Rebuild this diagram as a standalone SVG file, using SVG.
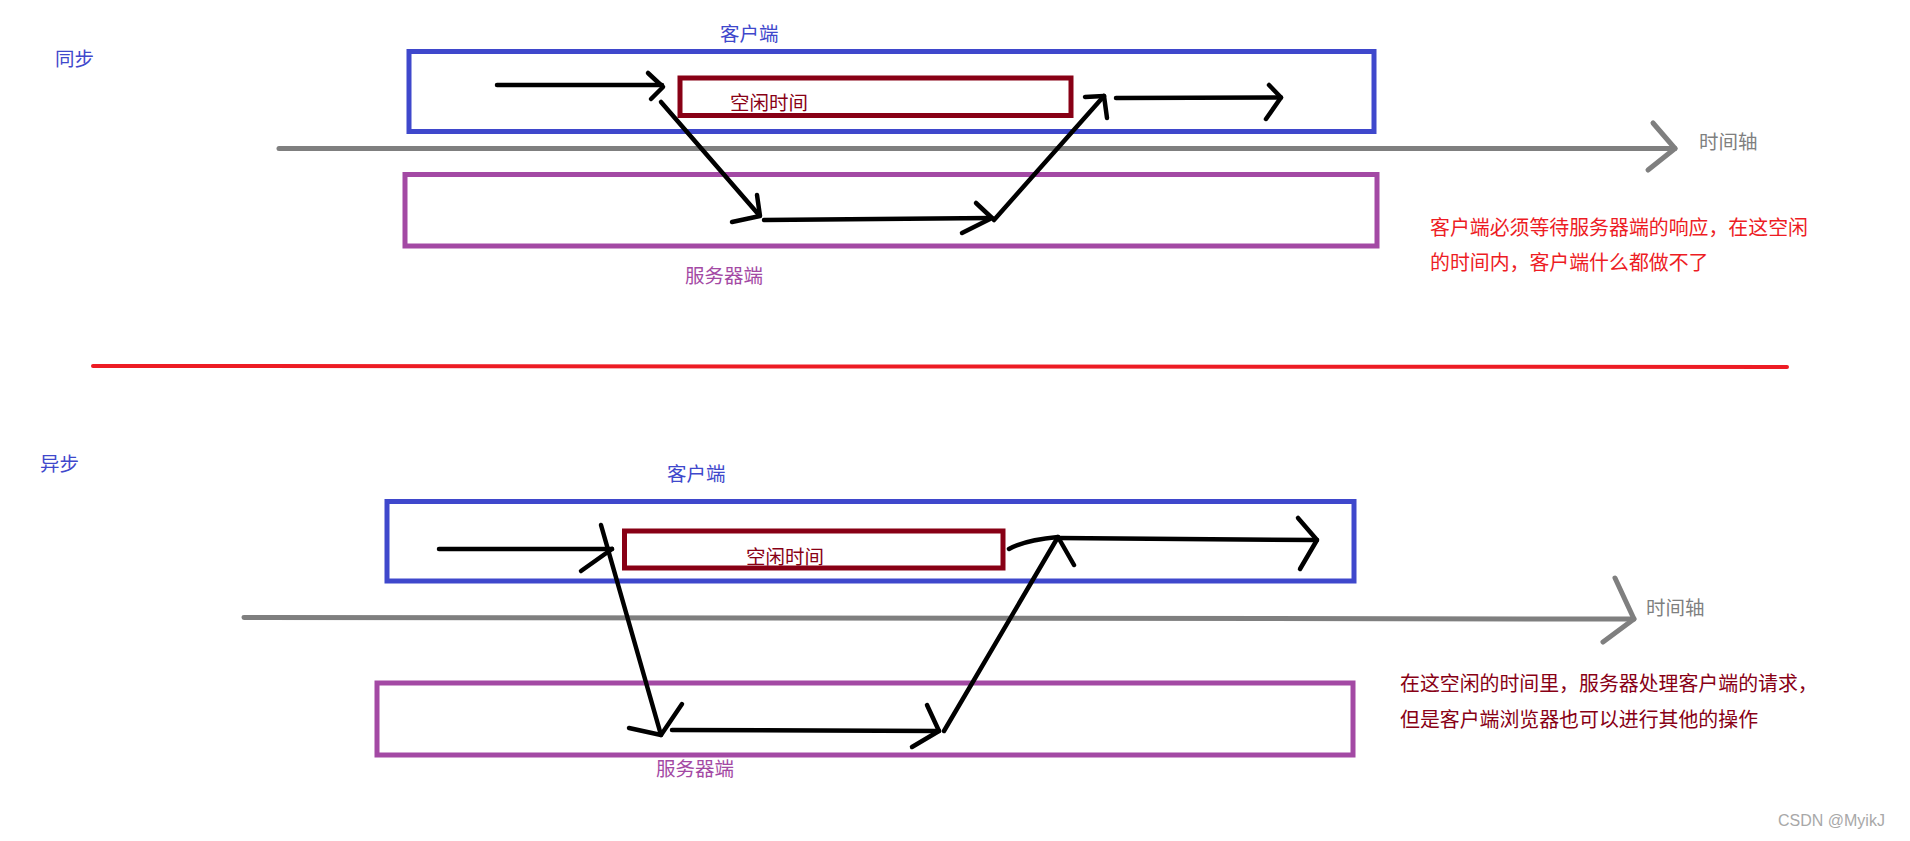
<svg xmlns="http://www.w3.org/2000/svg" width="1910" height="841" viewBox="0 0 1910 841">
<style>
.t{font-family:"Noto Sans CJK SC","Liberation Sans",sans-serif;font-size:19.5px}
.n{font-size:19.9px}
.blue{fill:#3F48CC}.pur{fill:#A349A4}.dred{fill:#880015}.red{fill:#ED1C24}.gray{fill:#7F7F7F}
.box{fill:none;stroke-width:5}
.bb{stroke:#3F48CC}.pb{stroke:#A349A4}.ib{stroke:#880015}
.ar{fill:none;stroke:#000;stroke-width:4.5;stroke-linecap:round;stroke-linejoin:round}
.ax{fill:none;stroke:#7F7F7F;stroke-width:5;stroke-linecap:round;stroke-linejoin:round}
</style>
<rect width="1910" height="841" fill="#fff"/>
<g id="sync">
<text class="t blue" x="55" y="66">同步</text>
<g id="client1"><rect class="box bb" x="409" y="51.5" width="965" height="80"/><text class="t blue" x="720" y="41">客户端</text></g>
<g id="idle1"><rect class="box ib" x="680" y="78" width="391" height="37.5"/><text class="t dred" x="730" y="110">空闲时间</text></g>
<g id="server1"><rect class="box pb" x="405" y="174.5" width="972" height="71.5"/><text class="t pur" x="685" y="283">服务器端</text></g>
<g id="axis1"><polyline class="ax" points="279,148.5 1675,148.5"/><polyline class="ax" points="1653,123 1675,148.5 1648,170"/><text class="t gray" x="1699" y="149">时间轴</text></g>
<g id="note1"><text class="t n red" x="1430" y="235">客户端必须等待服务器端的响应，在这空闲</text><text class="t n red" x="1430" y="270">的时间内，客户端什么都做不了</text></g>
</g>
<line x1="93" y1="366" x2="1787" y2="367" stroke="#ED1C24" stroke-width="4" stroke-linecap="round"/>
<g id="async">
<text class="t blue" x="40" y="471">异步</text>
<g id="client2"><rect class="box bb" x="387" y="501.5" width="967" height="79.5"/><text class="t blue" x="667" y="481">客户端</text></g>
<g id="idle2"><rect class="box ib" x="624.5" y="531" width="378.5" height="37"/><text class="t dred" x="746" y="564">空闲时间</text></g>
<g id="server2"><rect class="box pb" x="377" y="683" width="976" height="72"/><text class="t pur" x="656" y="776">服务器端</text></g>
<g id="axis2"><polyline class="ax" points="244,617.5 1634,619"/><polyline class="ax" points="1615,578 1634,619 1603,642"/><text class="t gray" x="1646" y="615">时间轴</text></g>
<g id="note2"><text class="t n dred" x="1400" y="691">在这空闲的时间里，服务器处理客户端的请求，</text><text class="t n dred" x="1400" y="727">但是客户端浏览器也可以进行其他的操作</text></g>
</g>
<g id="connectors">
<polyline class="ar" points="497,85 662,85"/>
<polyline class="ar" points="648,73 663,87 651,99"/>
<polyline class="ar" points="661,102 759,215"/>
<polyline class="ar" points="757,195 760,216 732,222"/>
<polyline class="ar" points="764,220 992,218"/>
<polyline class="ar" points="976,203 992,218 962,233"/>
<polyline class="ar" points="994,220 1104,96"/>
<polyline class="ar" points="1085,97 1104,96 1107,118"/>
<polyline class="ar" points="1116,98 1281,97.5"/>
<polyline class="ar" points="1269,85 1281,97.5 1266,119"/>
<polyline class="ar" points="439,549 612,549"/>
<polyline class="ar" points="581,571 612,549"/>
<polyline class="ar" points="601,525 661,735"/>
<polyline class="ar" points="629,728 661,735 682,704"/>
<polyline class="ar" points="672,730 939,731"/>
<polyline class="ar" points="927,705 939,731 912,747"/>
<path class="ar" d="M944,731 Q1005,628 1058,537"/>
<path class="ar" d="M1009,549 Q1025,540 1058,537 L1074,565"/>
<polyline class="ar" points="1058,538 1317,540"/>
<polyline class="ar" points="1298,518 1317,540 1300,569"/>
</g>
<text x="1778" y="826" font-family="Liberation Sans, sans-serif" font-size="16" fill="#A8A8A8">CSDN @MyikJ</text>
</svg>
